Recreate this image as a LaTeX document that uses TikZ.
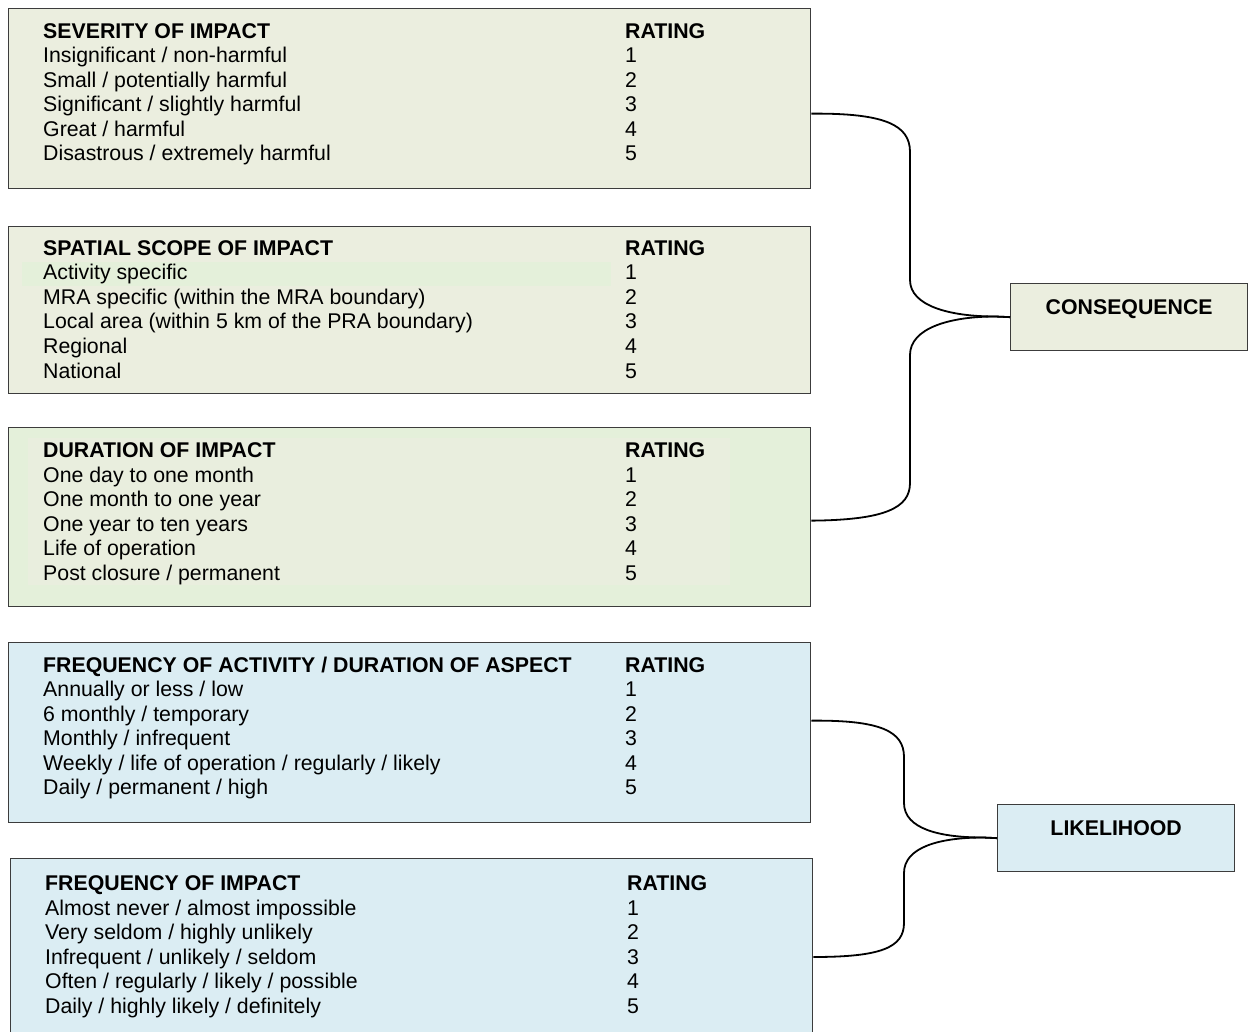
\documentclass[tikz,border=0pt]{standalone}
\usepackage{fontspec}
\setmainfont{Liberation Sans}
\usetikzlibrary{calc}
\definecolor{sage}{HTML}{EBEEDF}
\definecolor{mint}{HTML}{E4F0DA}
\definecolor{mintpale}{HTML}{E9EEDE}
\definecolor{sky}{HTML}{DBEDF3}
\definecolor{frame}{HTML}{3C3C3C}

% one rating table: name, text x, rating x, header baseline, header, rows
\newcommand\ratingblock[6]{%
  \node[hdr] (#1-h) at (#2,#4) {#5};
  \node[hdr] (#1-rh) at (#3,#4) {RATING};
  \foreach \t [count=\i] in {#6} {
    \node[txt] (#1-\i) at (#2,#4+24.5*\i) {\t};
    \node[txt] (#1-r\i) at (#3,#4+24.5*\i) {\i};
  }%
}

\begin{document}
\begin{tikzpicture}[x=1pt,y=-1pt,
  panel/.style={draw=frame,line width=1.3pt,anchor=north west,inner sep=0pt},
  txt/.style={anchor=base west,inner sep=0pt,font=\fontsize{21.3}{24}\selectfont},
  hdr/.style={anchor=base west,inner sep=0pt,font=\fontsize{21.3}{24}\selectfont\bfseries},
  link/.style={draw=black,line width=1.8pt}]

\clip (0,0) rectangle (1251,1032);

% consequence factors
\node[panel,fill=sage,minimum width=802pt,minimum height=180pt] (sev) at (8,8) {};
\node[panel,fill=sage,minimum width=802pt,minimum height=167pt] (spa) at (8,226) {};
\fill[mint] (22,262) rectangle (611,286);
\node[panel,fill=mint,minimum width=802pt,minimum height=179pt] (dur) at (8,427) {};
\fill[mintpale] (28,438) rectangle (730,585);

% likelihood factors
\node[panel,fill=sky,minimum width=802pt,minimum height=180pt] (fqa) at (8,642) {};
\node[panel,fill=sky,minimum width=802pt,minimum height=200pt] (fqi) at (10,858) {};

% result boxes
\node[panel,fill=sage,minimum width=237pt,minimum height=67pt] (cons) at (1010,283) {};
\node[hdr,anchor=base] (cons-t) at ([yshift=-31.5pt]cons.north) {CONSEQUENCE};
\node[panel,fill=sky,minimum width=237pt,minimum height=67pt] (like) at (997,804) {};
\node[hdr,anchor=base] (like-t) at ([yshift=-31.5pt]like.north) {LIKELIHOOD};

\ratingblock{s}{43}{625}{38.5}{SEVERITY OF IMPACT}
  {{Insignificant / non-harmful},{Small / potentially harmful},{Significant / slightly harmful},{Great / harmful},{Disastrous / extremely harmful}}
\ratingblock{p}{43}{625}{255.5}{SPATIAL SCOPE OF IMPACT}
  {{Activity specific},{MRA specific (within the MRA boundary)},{Local area (within 5 km of the PRA boundary)},{Regional},{National}}
\ratingblock{d}{43}{625}{457.5}{DURATION OF IMPACT}
  {{One day to one month},{One month to one year},{One year to ten years},{Life of operation},{Post closure / permanent}}
\ratingblock{a}{43}{625}{672}{FREQUENCY OF ACTIVITY / DURATION OF ASPECT}
  {{Annually or less / low},{6 monthly / temporary},{Monthly / infrequent},{Weekly / life of operation / regularly / likely},{Daily / permanent / high}}
\ratingblock{f}{45}{627}{890.5}{FREQUENCY OF IMPACT}
  {{Almost never / almost impossible},{Very seldom / highly unlikely},{Infrequent / unlikely / seldom},{Often / regularly / likely / possible},{Daily / highly likely / definitely}}

% brace connectors
\draw[link] ([yshift=-15pt]sev.east) .. controls (885,113) and (910,125) .. (910,152)
  -- (910,280) .. controls (910,306) and (950,316.5) .. (995,316.5) -- (cons.west);
\draw[link] ([yshift=-3.5pt]dur.east) .. controls (885,520) and (910,508) .. (910,483)
  -- (910,355) .. controls (910,328) and (950,316.5) .. (995,316.5) -- (cons.west);
\draw[link] ([yshift=12pt]fqa.east) .. controls (880,720) and (904,731) .. (904,757)
  -- (904,803) .. controls (904,829) and (940,837.5) .. (983,837.5) -- (like.west);
\draw[link] ([yshift=-99pt]fqi.north east) .. controls (880,957) and (904,948) .. (904,923)
  -- (904,873) .. controls (904,847) and (940,837.5) .. (983,837.5) -- (like.west);
\end{tikzpicture}
\end{document}
